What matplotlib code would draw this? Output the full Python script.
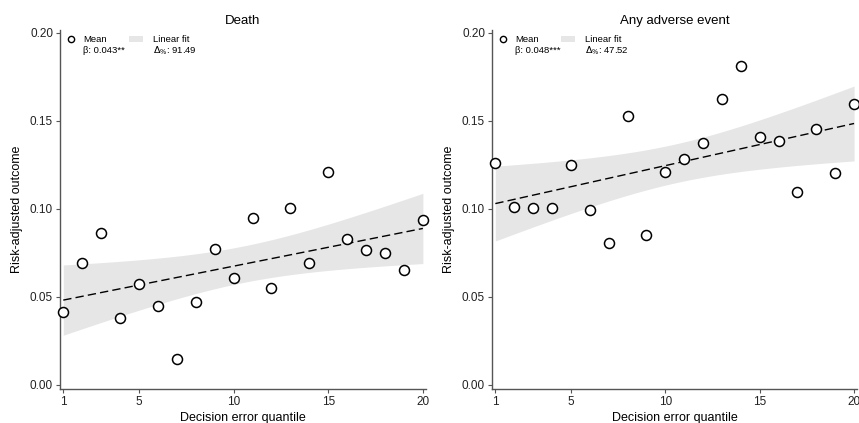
import numpy as np
import matplotlib
matplotlib.use("Agg")
import matplotlib.pyplot as plt
from matplotlib.patches import Rectangle
from matplotlib.lines import Line2D

plt.rcParams['font.family'] = ['Liberation Sans', 'DejaVu Sans']

# Decision error quantiles and risk-adjusted outcome means
quantiles = np.arange(1, 21)
death = [0.0413, 0.069, 0.086, 0.038, 0.057, 0.0447, 0.0144, 0.0468, 0.0771, 0.0604,
         0.0947, 0.0547, 0.1006, 0.069, 0.1208, 0.0826, 0.0763, 0.075, 0.0652, 0.0938]
adverse = [0.1258, 0.1009, 0.1004, 0.1002, 0.125, 0.099, 0.0806, 0.1528, 0.0851, 0.1209,
           0.1283, 0.1375, 0.1621, 0.1808, 0.1409, 0.1383, 0.1092, 0.1451, 0.1202, 0.1592]

titles = ["Death", "Any adverse event"]
betas = ["β: 0.043**", "β: 0.048***"]
deltas = ["91.49", "47.52"]

T_CRIT = 2.101  # t(0.975, df=18)


def ols_band(x, y, xs):
    x = np.asarray(x, float)
    y = np.asarray(y, float)
    slope, icpt = np.polyfit(x, y, 1)
    resid = y - (icpt + slope * x)
    s = np.sqrt(np.sum(resid ** 2) / (len(x) - 2))
    sxx = np.sum((x - x.mean()) ** 2)
    fit = icpt + slope * xs
    half = T_CRIT * s * np.sqrt(1 / len(x) + (xs - x.mean()) ** 2 / sxx)
    return fit, fit - half, fit + half


fig = plt.figure(figsize=(8.59, 4.23), dpi=100)
axes = [fig.add_axes([0.0698, 0.0804, 0.426, 0.8487]),
        fig.add_axes([0.5728, 0.0804, 0.425, 0.8487])]

spine_col = "#555555"
for ax, y, title, beta, delta in zip(axes, [death, adverse], titles, betas, deltas):
    xs = np.linspace(1, 20, 200)
    fit, lo, hi = ols_band(quantiles, y, xs)
    ax.fill_between(xs, lo, hi, color="#e6e6e6", lw=0, zorder=1)
    ax.plot(xs, fit, color="black", lw=1.0, dashes=(6, 3), zorder=2)
    ax.plot(quantiles, y, "o", mfc="white", mec="black", mew=1.1, ms=7.2, zorder=3,
            clip_on=False)

    ax.set_xlim(0.825, 20.16)
    ax.set_ylim(-0.0025, 0.2015)
    ax.set_xticks([1, 5, 10, 15, 20])
    ax.set_yticks([0.0, 0.05, 0.10, 0.15, 0.20])
    ax.set_yticklabels(["0.00", "0.05", "0.10", "0.15", "0.20"])
    ax.tick_params(length=3, width=0.8, color=spine_col, labelsize=8.5, pad=2,
                   labelcolor="#222222")
    for side in ["top", "right"]:
        ax.spines[side].set_visible(False)
    for side in ["left", "bottom"]:
        ax.spines[side].set_color(spine_col)
        ax.spines[side].set_linewidth(1.0)

    ax.set_title(title, fontsize=9.5, pad=4)
    ax.set_xlabel("Decision error quantile", fontsize=9, labelpad=3)
    ax.set_ylabel("Risk-adjusted outcome", fontsize=9, labelpad=5)

    # legend block
    ax.add_line(Line2D([0.029], [0.974], transform=ax.transAxes, marker="o", ms=4.5,
                       mfc="white", mec="black", mew=1.0, ls=""))
    ax.text(0.063, 0.974, "Mean", transform=ax.transAxes, fontsize=6.8, va="center")
    ax.text(0.063, 0.943, beta, transform=ax.transAxes, fontsize=6.8, va="center")
    ax.add_patch(Rectangle((0.19, 0.966), 0.036, 0.016, transform=ax.transAxes,
                           color="#e6e6e6", lw=0))
    ax.text(0.255, 0.974, "Linear fit", transform=ax.transAxes, fontsize=6.8, va="center")
    ax.text(0.255, 0.943, r"$\Delta_{\%}$: " + delta, transform=ax.transAxes,
            fontsize=6.8, va="center")

fig.savefig("out.png", dpi=100)
